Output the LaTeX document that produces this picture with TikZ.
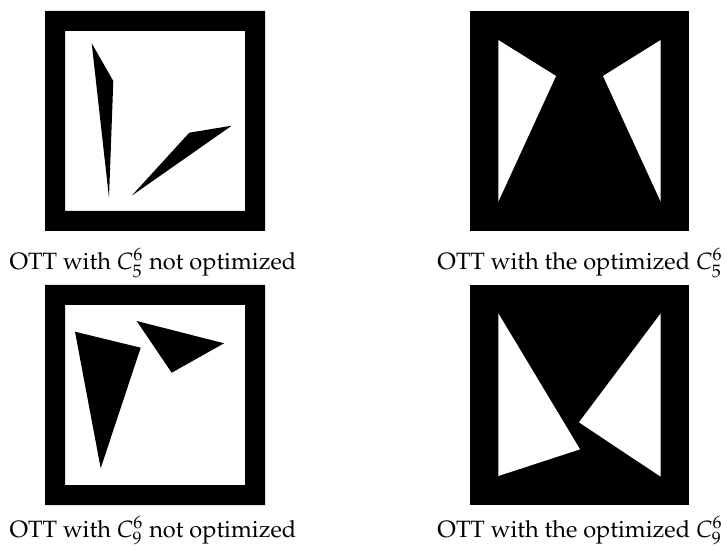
\documentclass[tikz,border=0pt]{standalone}
\usepackage[T1]{fontenc}
\usepackage{mathpazo}

\begin{document}
\begin{tikzpicture}[x=0.5pt,y=-0.5pt,
    caption/.style={font=\fontsize{11.8}{14}\selectfont, anchor=base, inner sep=0pt}]

\useasboundingbox (0,0) rectangle (727,550);

% frames on the left, black squares on the right
\foreach \fy in {11, 285} {
    \fill[even odd rule] (45,\fy) rectangle +(220,220) (65,\fy+20) rectangle +(180,180);
    \fill (470,\fy) rectangle +(219.3,220);
}

% C5 not optimized
\fill (91.7,43.3) -- (113.3,81) -- (109,197.7) -- cycle;
\fill (131.7,195.7) -- (189.3,132.7) -- (231.7,125.7) -- cycle;

% C5 optimized
\fill[white] (498.3,40) -- (556,76) -- (498.3,201.7) -- cycle;
\fill[white] (660.7,40) -- (603,76) -- (660.7,201.7) -- cycle;

% C9 not optimized
\fill (75,331.7) -- (140.7,347.7) -- (100.7,468.3) -- cycle;
\fill (136.7,321) -- (224,343.3) -- (171.7,372.7) -- cycle;

% C9 optimized
\fill[white] (498.3,313.3) -- (580,449.3) -- (498.3,476) -- cycle;
\fill[white] (660.7,313.3) -- (579,422.3) -- (660.7,476.7) -- cycle;

\node[caption] (capfivea) at (153,269.5) {OTT with $C_5^6$ not optimized};
\node[caption] (capfiveb) at (580,269.5) {OTT with the optimized $C_5^6$};
\node[caption] (capninea) at (153,537) {OTT with $C_9^6$ not optimized};
\node[caption] (capnineb) at (580,537) {OTT with the optimized $C_9^6$};

\end{tikzpicture}
\end{document}
